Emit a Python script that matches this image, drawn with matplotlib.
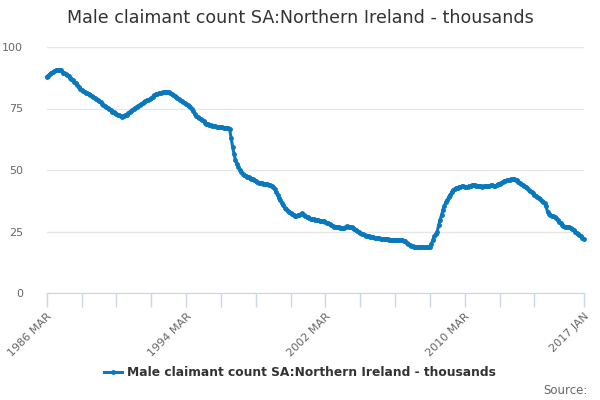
import matplotlib
matplotlib.use("Agg")
import matplotlib.pyplot as plt
import numpy as np

# monthly values, thousands, 1986 MAR .. 2017 JAN
y1986 = [87.9, 88.4, 88.9, 89.5, 89.8, 90.1, 90.5, 90.6, 90.5, 90.6]  # MAR-DEC
y1987 = [90.5, 89.5, 89.3, 89.0, 88.6, 88.1, 87.5, 87.0, 86.4, 85.9, 85.3, 84.5]
y1988 = [83.7, 83.0, 82.6, 82.2, 81.9, 81.5, 81.1, 80.7, 80.3, 79.9, 79.5, 79.2]
y1989 = [78.8, 78.4, 78.0, 77.5, 77.0, 76.6, 76.1, 75.7, 75.2, 74.7, 74.2, 73.7]
y1990 = [73.4, 73.1, 72.8, 72.5, 72.3, 72.0, 71.7, 71.9, 72.2, 72.5, 73.0, 73.5]
y1991 = [74.0, 74.4, 74.9, 75.3, 75.8, 76.1, 76.5, 76.9, 77.2, 77.6, 77.9, 78.3]
y1992 = [78.5, 78.7, 79.2, 79.8, 80.5, 80.8, 81.0, 81.2, 81.4, 81.5, 81.6, 81.7]
y1993 = [81.7, 81.8, 81.6, 81.3, 80.9, 80.5, 80.1, 79.6, 79.2, 78.7, 78.3, 77.9]
y1994 = [77.5, 77.1, 76.8, 76.4, 76.0, 75.5, 74.7, 73.8, 72.9, 72.0, 71.5, 71.0]
y1995 = [70.6, 70.2, 69.8, 69.3, 68.9, 68.6, 68.3, 68.1, 67.9, 67.8, 67.7, 67.6]
y1996 = [67.6, 67.6, 67.5, 67.3, 67.2, 67.1, 67.0, 66.9, 66.5, 62.9, 59.5, 56.5]
y1997 = [54.0, 52.5, 51.2, 50.0, 49.3, 48.5, 48.0, 47.7, 47.3, 47.1, 46.8, 46.5]
y1998 = [46.3, 46.0, 45.6, 45.2, 44.9, 44.7, 44.6, 44.5, 44.5, 44.4, 44.4, 44.0]
y1999 = [43.8, 43.5, 43.2, 42.3, 41.0, 39.8, 38.8, 37.8, 36.7, 35.6, 34.5, 34.0]
y2000 = [33.5, 33.0, 32.6, 32.2, 31.9, 31.5, 31.4, 31.6, 31.8, 32.1, 32.4, 31.8]
y2001 = [31.4, 31.0, 30.7, 30.4, 30.2, 30.0, 29.9, 29.7, 29.6, 29.5, 29.4, 29.3]
y2002 = [29.2, 29.1, 29.0, 28.6, 28.3, 27.9, 27.5, 27.2, 27.0, 26.9, 26.8, 26.7]
y2003 = [26.6, 26.5, 26.4, 26.6, 26.9, 27.2, 27.0, 26.8, 26.7, 26.5, 26.2, 25.7]
y2004 = [25.3, 25.0, 24.5, 24.1, 23.8, 23.5, 23.3, 23.1, 23.0, 22.9, 22.8, 22.6]
y2005 = [22.5, 22.4, 22.3, 22.2, 22.1, 22.0, 22.0, 21.9, 21.8, 21.8, 21.7, 21.7]
y2006 = [21.6, 21.6, 21.6, 21.5, 21.5, 21.5, 21.4, 21.5, 21.3, 21.0, 20.4, 19.9]
y2007 = [19.5, 19.3, 19.1, 18.9, 18.7, 18.6, 18.5, 18.5, 18.5, 18.6, 18.6, 18.7]
y2008 = [18.7, 18.8, 18.8, 20.0, 21.5, 23.0, 24.0, 25.0, 27.5, 29.7, 31.7, 33.8]
y2009 = [35.5, 37.0, 37.8, 39.0, 40.0, 41.0, 41.9, 42.3, 42.6, 42.8, 43.0, 43.2]
y2010 = [43.3, 43.5, 43.2, 43.0, 43.2, 43.5, 43.6, 43.7, 43.9, 43.8, 43.6, 43.5]
y2011 = [43.4, 43.3, 43.2, 43.3, 43.4, 43.5, 43.6, 43.6, 43.7, 43.8, 43.6, 43.5]
y2012 = [43.8, 44.2, 44.5, 44.8, 45.1, 45.4, 45.7, 45.8, 46.0, 46.1, 46.2, 46.3]
y2013 = [46.3, 46.1, 45.8, 45.3, 44.9, 44.4, 44.0, 43.5, 43.1, 42.6, 42.0, 41.5]
y2014 = [41.0, 40.6, 40.0, 39.6, 39.2, 38.7, 38.2, 37.6, 37.0, 36.5, 35.2, 33.0]
y2015 = [32.2, 31.8, 31.5, 31.2, 30.8, 30.3, 29.6, 29.0, 28.4, 27.8, 27.2, 27.0]
y2016 = [27.0, 27.0, 26.7, 26.4, 26.0, 25.5, 24.9, 24.5, 24.1, 23.6, 23.0, 22.5]
y2017 = [22.0]  # JAN

values = (y1986 + y1987 + y1988 + y1989 + y1990 + y1991 + y1992 + y1993 + y1994
          + y1995 + y1996 + y1997 + y1998 + y1999 + y2000 + y2001 + y2002 + y2003
          + y2004 + y2005 + y2006 + y2007 + y2008 + y2009 + y2010 + y2011 + y2012
          + y2013 + y2014 + y2015 + y2016 + y2017)

month_names = ['JAN', 'FEB', 'MAR', 'APR', 'MAY', 'JUN',
               'JUL', 'AUG', 'SEP', 'OCT', 'NOV', 'DEC']
start_year, start_month = 1986, 2  # 1986 MAR

labels = []
for i in range(len(values)):
    k = start_month + i
    labels.append('%d %s' % (start_year + k // 12, month_names[k % 12]))

series_name = 'Male claimant count SA:Northern Ireland - thousands'
blue = '#0a78bd'
grey = '#666666'

fig = plt.figure(figsize=(6, 4), dpi=100)
ax = fig.add_axes([0.078, 0.2675, 0.895, 0.615])

x = np.arange(len(values))
line, = ax.plot(x, values, color=blue, lw=2.2, marker='o', ms=2.5,
                mec=blue, mfc=blue, clip_on=False)

ax.set_xlim(0, len(values) - 1)
ax.set_ylim(0, 100)
ax.set_yticks([0, 25, 50, 75, 100])
ax.yaxis.grid(True, color='#e6e6e6', lw=1)
ax.set_axisbelow(True)

ticks = list(range(0, 360, 24)) + [len(values) - 1]
ax.set_xticks(ticks)
tick_labels = []
for t in ticks:
    if t % 96 == 0 or t == len(values) - 1:
        tick_labels.append(labels[t])
    else:
        tick_labels.append('')
ax.set_xticklabels(tick_labels, rotation=45, ha='right', rotation_mode='anchor')

for s in ['top', 'right', 'left']:
    ax.spines[s].set_visible(False)
ax.spines['bottom'].set_color('#ccd6eb')
ax.tick_params(axis='x', colors='#ccd6eb', length=10, width=1, labelcolor=grey,
               labelsize=8, pad=3)
ax.tick_params(axis='y', length=0, labelcolor=grey, labelsize=8, pad=17)

fig.text(0.5, 0.955, series_name, ha='center', va='center',
         fontsize=12.6, color='#333333')

fig.legend([line], [series_name], loc='center', bbox_to_anchor=(0.5, 0.068),
           frameon=False, handlelength=1.5, handletextpad=0.4,
           prop={'weight': 'bold', 'size': 8.8}, labelcolor='#333333')

fig.text(0.98, 0.025, 'Source:', ha='right', va='center', fontsize=8.5, color=grey)

fig.savefig('out.png', dpi=100)
